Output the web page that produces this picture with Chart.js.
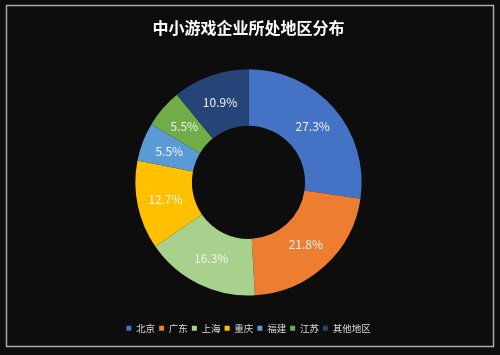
<!DOCTYPE html>
<html>
<head>
<meta charset="utf-8">
<script src="https://cdn.jsdelivr.net/npm/chart.js@4/dist/chart.umd.min.js"></script>
<style>
  html, body { margin: 0; padding: 0; background: #0d0d0d; }
  #wrap { width: 500px; height: 355px; position: relative; }
</style>
</head>
<body>
<div id="wrap"><canvas id="c" width="500" height="355"></canvas></div>
<script>
const categories = ['北京', '广东', '上海', '重庆', '福建', '江苏', '其他地区'];
const shares = [27.3, 21.8, 16.3, 12.7, 5.5, 5.5, 10.9];
const valueLabels = ['27.3%', '21.8%', '16.3%', '12.7%', '5.5%', '5.5%', '10.9%'];
const colors = ['#4472c4', '#ed7d31', '#a9d18e', '#ffc000', '#5b9bd5', '#70ad47', '#264478'];
const titleText = '中小游戏企业所处地区分布';

const FONT = '"Noto Sans CJK SC", "Noto Sans", sans-serif';

const framePlugin = {
  id: 'frame',
  beforeDraw(chart) {
    const ctx = chart.ctx;
    ctx.save();
    ctx.fillStyle = '#0d0d0d';
    ctx.fillRect(0, 0, chart.width, chart.height);
    ctx.strokeStyle = '#a8a8a8';
    ctx.lineWidth = 1.5;
    ctx.strokeRect(6.5, 5.5, 487, 341);
    ctx.restore();
  }
};

const labelPlugin = {
  id: 'sliceLabels',
  afterDatasetsDraw(chart) {
    const ctx = chart.ctx;
    const meta = chart.getDatasetMeta(0);
    ctx.save();
    ctx.font = '12px ' + FONT;
    ctx.fillStyle = '#f2f2f2';
    ctx.textAlign = 'center';
    ctx.textBaseline = 'middle';
    meta.data.forEach((arc, i) => {
      const p = arc.getProps(['startAngle', 'endAngle', 'innerRadius', 'outerRadius', 'x', 'y'], true);
      const a = (p.startAngle + p.endAngle) / 2;
      const r = (p.innerRadius + p.outerRadius) / 2;
      ctx.fillText(valueLabels[i], p.x + Math.cos(a) * r, p.y + Math.sin(a) * r);
    });
    ctx.restore();
  }
};

new Chart(document.getElementById('c'), {
  type: 'doughnut',
  data: {
    labels: categories,
    datasets: [{
      data: shares,
      backgroundColor: colors,
      borderWidth: 0
    }]
  },
  options: {
    responsive: false,
    animation: false,
    cutout: '50%',
    layout: { padding: { left: 0, right: 3, top: 0, bottom: 12 } },
    plugins: {
      title: {
        display: true,
        text: titleText,
        color: '#ffffff',
        font: { family: FONT, size: 16, weight: 'bold' },
        padding: { top: 18, bottom: 32 }
      },
      legend: {
        position: 'bottom',
        title: {
          display: true,
          text: '',
          font: { family: FONT, size: 10 },
          padding: { top: 12, bottom: 0 }
        },
        labels: {
          color: '#d9d9d9',
          font: { family: FONT, size: 9.5 },
          boxWidth: 5,
          boxHeight: 5,
          padding: 4
        }
      },
      tooltip: { enabled: false }
    }
  },
  plugins: [framePlugin, labelPlugin]
});
</script>
</body>
</html>
